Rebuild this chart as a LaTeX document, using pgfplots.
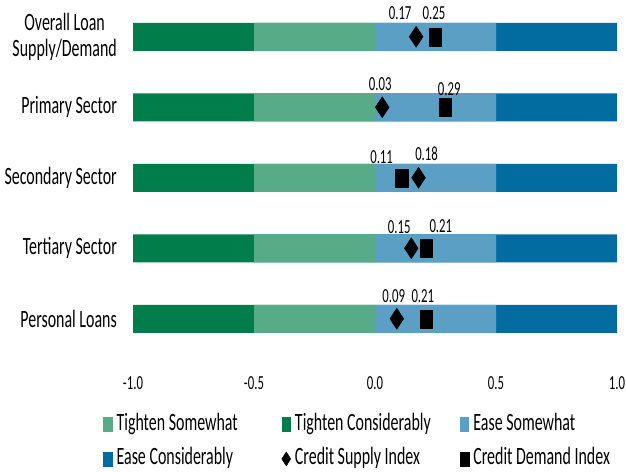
\documentclass[border=0pt]{standalone}
\usepackage{pgfplots}
\pgfplotsset{compat=1.18}
\usepackage{fontspec}
\setmainfont{Carlito}[FakeStretch=0.64]
\definecolor{tcons}{HTML}{007D4B}
\definecolor{tsome}{HTML}{57AB86}
\definecolor{esome}{HTML}{5BA0C4}
\definecolor{econs}{HTML}{026CA0}
\begin{document}
\begin{tikzpicture}
\useasboundingbox (0,0) rectangle (626bp,472bp);
\begin{axis}[
  at={(133bp,470.5bp)}, anchor=north west,
  scale only axis, width=484bp, height=352.5bp,
  xmin=-1, xmax=1, ymin=-0.5, ymax=4.5, y dir=reverse,
  axis line style={draw=none}, major tick length=0pt,
  xtick={-1,-0.5,0,0.5,1}, xticklabels={-1.0,-0.5,0.0,0.5,1.0},
  xticklabel style={font=\fontsize{20}{22}\selectfont, inner sep=0pt, anchor=north, yshift=-22.7bp},
  ytick={0,1,2,3,4},
  yticklabels={{Overall Loan\\Supply/Demand},Primary Sector,Secondary Sector,Tertiary Sector,Personal Loans},
  yticklabel style={font=\fontsize{25}{26.7}\selectfont, align=center, inner sep=0pt, anchor=east, xshift=-16bp},
  clip=false,
  legend columns=3,
  legend cell align=left,
  legend style={draw=none, fill=none, at={(axis description cs:-0.062,-0.168)}, anchor=north west,
    inner sep=0pt, row sep=12.5bp, column sep=0pt, font=\fontsize{25}{27}\selectfont,
    nodes={inner sep=0pt, text height=17bp, text depth=5bp}},
]
% bars
\addplot[xbar, bar shift=0pt, bar width=28bp, draw=none, fill=tcons, forget plot] coordinates {(-1,0) (-1,1) (-1,2) (-1,3) (-1,4)};
\addplot[xbar, bar shift=0pt, bar width=28bp, draw=none, fill=tsome, forget plot] coordinates {(-0.5,0) (-0.5,1) (-0.5,2) (-0.5,3) (-0.5,4)};
\addplot[xbar, bar shift=0pt, bar width=28bp, draw=none, fill=econs, forget plot] coordinates {(1,0) (1,1) (1,2) (1,3) (1,4)};
\addplot[xbar, bar shift=0pt, bar width=28bp, draw=none, fill=esome, forget plot] coordinates {(0.5,0) (0.5,1) (0.5,2) (0.5,3) (0.5,4)};
% credit supply index
\addplot[only marks, mark=diamond*, mark size=10.5bp, black, mark options={xscale=0.88, fill=black}, forget plot,
  point meta=explicit symbolic, nodes near coords,
  visualization depends on={\thisrow{dx}\as\dx},
  visualization depends on={\thisrow{dy}\as\dy},
  nodes near coords style={anchor=base, xshift=\dx*1bp, yshift=\dy*1bp, inner sep=0pt, font=\fontsize{20}{22}\selectfont}]
  table[x=x, y=y, meta=lbl] {
y x lbl dx dy
0 0.17 0.17 -16 17.7
1 0.03 0.03 -2 17
2 0.18 0.18 8 17.5
3 0.15 0.15 -12 15
4 0.09 0.09 -3 16
};
% credit demand index
\addplot[only marks, mark=square*, mark size=9bp, black, mark options={xscale=0.68, fill=black}, forget plot,
  point meta=explicit symbolic, nodes near coords,
  visualization depends on={\thisrow{dx}\as\dx},
  visualization depends on={\thisrow{dy}\as\dy},
  nodes near coords style={anchor=base, xshift=\dx*1bp, yshift=\dy*1bp, inner sep=0pt, font=\fontsize{20}{22}\selectfont}]
  table[x=x, y=y, meta=lbl] {
y x lbl dx dy
0 0.25 0.25 -1.5 17.7
1 0.29 0.29 4 12
2 0.11 0.11 -20 14.5
3 0.21 0.21 15 16
4 0.21 0.21 -3 16
};
% legend
\addlegendimage{legend image code/.code={\fill[tsome] (0bp,-7bp) rectangle (8.5bp,7bp); \path (13bp,0bp);}}
\addlegendimage{legend image code/.code={\fill[tcons] (0bp,-7bp) rectangle (8.5bp,7bp); \path (13bp,0bp);}}
\addlegendimage{legend image code/.code={\fill[esome] (0bp,-7bp) rectangle (8.5bp,7bp); \path (13bp,0bp);}}
\addlegendimage{legend image code/.code={\fill[econs] (0bp,-7bp) rectangle (8.5bp,7bp); \path (13bp,0bp);}}
\addlegendimage{legend image code/.code={\fill[black] (4.5bp,7bp) -- (9bp,0bp) -- (4.5bp,-7bp) -- (0bp,0bp) -- cycle; \path (13bp,0bp);}}
\addlegendimage{legend image code/.code={\fill[black] (0bp,-7bp) rectangle (9bp,7bp); \path (13bp,0bp);}}
\legend{\makebox[165bp][l]{Tighten Somewhat},\makebox[165bp][l]{Tighten Considerably},Ease Somewhat,\makebox[165bp][l]{Ease Considerably},\makebox[165bp][l]{Credit Supply Index},Credit Demand Index}
\end{axis}
\end{tikzpicture}
\end{document}
